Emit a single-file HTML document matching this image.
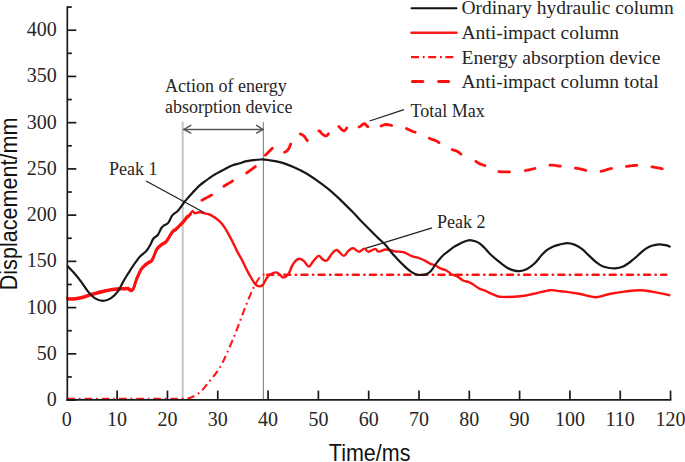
<!DOCTYPE html>
<html><head><meta charset="utf-8"><style>
html,body{margin:0;padding:0;background:#fff;width:685px;height:462px;overflow:hidden}
svg{display:block}
.serif{font-family:"Liberation Serif",serif;fill:#262626}
.sans{font-family:"Liberation Sans",sans-serif;fill:#111}
</style></head><body>
<svg width="685" height="462" viewBox="0 0 685 462">
<g fill="none">
<line x1="182.7" y1="121.8" x2="182.7" y2="399" stroke="#c4c4c4" stroke-width="2"/>
<line x1="263.4" y1="122" x2="263.4" y2="399" stroke="#8c8c8c" stroke-width="1.2"/>
</g>
<path d="M67.5,398.7 C81.2,398.7 132.1,398.7 150.0,398.7 C167.9,398.7 169.4,398.7 175.0,398.7 C180.6,398.7 181.1,398.8 183.8,398.6 C186.5,398.4 188.3,398.7 191.1,397.5 C193.9,396.3 197.9,394.2 200.8,391.6 C203.7,389.1 206.1,385.3 208.7,382.2 C211.3,379.1 214.0,375.9 216.2,372.9 C218.4,369.9 220.0,367.3 221.8,364.0 C223.6,360.7 224.9,357.8 226.9,353.3 C228.9,348.9 231.6,342.6 233.8,337.3 C236.0,332.0 237.9,326.9 239.9,321.5 C241.9,316.1 244.0,310.3 246.1,305.1 C248.2,299.9 250.5,294.3 252.4,290.2 C254.3,286.1 255.9,283.0 257.5,280.5 C259.1,278.0 260.6,276.3 262.2,275.3 C263.8,274.3 266.2,274.8 267.0,274.7" fill="none" stroke="#ff1a1a" stroke-width="2.1" stroke-dasharray="7.7 3.8 1.8 3.83"/>
<line x1="265" y1="274.7" x2="666.3" y2="274.7" stroke="#ff1010" stroke-width="2.6" stroke-linecap="round" stroke-dasharray="5.9 5.6 0.2 5.43" stroke-dashoffset="14.92"/>
<path d="M67.3,299.5 C68.4,299.5 71.3,299.7 73.7,299.5 C76.1,299.3 79.0,298.8 81.9,298.1 C84.8,297.4 87.7,296.2 91.2,295.2 C94.7,294.2 99.0,292.9 102.9,292.0 C106.8,291.1 111.1,290.3 114.6,289.9 C118.1,289.4 121.7,289.4 124.0,289.3 C126.3,289.2 127.2,289.0 128.3,289.3 C129.5,289.6 130.0,291.2 130.9,291.1 C131.8,291.0 132.6,290.6 133.5,288.9 C134.4,287.2 135.2,283.4 136.1,281.1 C137.0,278.8 137.8,276.9 138.7,275.0 C139.6,273.1 140.3,271.4 141.3,269.9 C142.3,268.4 143.7,267.1 144.8,266.0 C146.0,264.9 147.0,264.2 148.2,263.4 C149.3,262.6 150.7,262.5 151.7,261.2 C152.7,259.9 153.4,257.7 154.3,255.8 C155.2,253.9 155.7,251.4 156.9,249.7 C158.1,248.0 159.9,246.6 161.3,245.4 C162.8,244.2 164.4,243.8 165.6,242.8 C166.8,241.8 167.0,241.0 168.2,239.3 C169.3,237.6 171.2,234.0 172.5,232.4 C173.8,230.8 174.7,231.0 176.0,229.8 C177.3,228.7 179.0,226.8 180.3,225.5 C181.6,224.2 182.8,223.1 183.8,222.0 C184.8,220.9 185.2,220.1 186.2,218.9 C187.1,217.7 188.5,216.3 189.5,215.0 C190.5,213.7 191.5,211.6 192.4,211.3 C193.3,211.0 193.7,213.0 194.8,213.2 C196.0,213.4 197.5,212.2 199.3,212.3 C201.2,212.4 204.0,213.1 205.9,213.6 C207.8,214.1 208.7,213.9 210.9,215.1 C213.1,216.3 216.9,218.9 219.1,220.9 C221.3,222.9 222.2,223.8 224.2,226.8 C226.2,229.8 229.1,235.1 231.2,239.1 C233.3,243.1 235.2,247.5 236.9,250.9 C238.6,254.3 239.9,256.0 241.6,259.3 C243.3,262.6 245.5,267.3 247.2,270.6 C248.9,273.9 250.5,276.7 251.9,279.0 C253.3,281.3 254.3,283.4 255.6,284.6 C256.8,285.8 258.1,286.4 259.4,286.4 C260.6,286.4 261.9,286.0 263.1,284.6 C264.3,283.2 265.6,279.7 266.8,278.0 C268.1,276.3 269.0,275.2 270.6,274.3 C272.2,273.4 274.6,272.3 276.2,272.4 C277.8,272.5 278.7,273.9 279.9,274.8 C281.1,275.7 281.8,277.7 283.2,277.6 C284.6,277.5 286.8,276.2 288.3,274.3 C289.8,272.4 290.9,268.2 292.1,265.9 C293.4,263.6 294.6,261.9 295.8,260.7 C297.0,259.5 298.0,258.7 299.4,258.8 C300.8,258.9 302.4,259.8 304.0,261.1 C305.6,262.4 307.1,266.6 308.7,266.6 C310.3,266.6 311.7,262.9 313.4,261.1 C315.1,259.3 317.1,256.2 318.7,255.9 C320.2,255.6 321.3,258.6 322.7,259.4 C324.1,260.2 325.2,261.6 326.8,260.6 C328.4,259.6 330.4,255.3 332.1,253.5 C333.8,251.7 334.9,249.6 336.8,250.0 C338.8,250.4 341.9,255.8 343.8,255.9 C345.8,256.0 346.9,251.9 348.5,250.6 C350.1,249.3 351.4,248.1 353.2,248.3 C354.9,248.5 357.1,251.8 359.0,251.8 C360.9,251.9 362.7,248.6 364.3,248.6 C365.9,248.6 366.6,251.8 368.4,251.8 C370.2,251.9 373.4,248.9 375.1,248.9 C376.8,248.9 376.9,251.5 378.6,251.6 C380.4,251.7 383.3,249.7 385.6,249.5 C387.9,249.3 390.9,250.4 392.6,250.7 C394.3,251.0 394.2,251.2 396.0,251.5 C397.8,251.8 400.7,251.4 403.4,252.2 C406.1,253.0 409.8,255.4 412.4,256.4 C415.0,257.4 416.9,257.4 419.0,258.1 C421.1,258.8 422.9,259.7 424.8,260.6 C426.7,261.6 428.7,263.0 430.5,263.8 C432.3,264.6 433.9,264.7 435.5,265.5 C437.1,266.3 438.8,267.6 440.4,268.4 C442.0,269.1 443.9,269.4 445.3,270.0 C446.7,270.6 447.4,271.3 448.6,272.1 C449.8,272.9 450.9,274.0 452.3,274.7 C453.8,275.4 455.5,275.4 457.3,276.4 C459.1,277.4 461.1,279.6 463.0,280.5 C464.9,281.4 467.2,281.5 468.8,282.1 C470.4,282.7 471.2,283.2 472.9,284.2 C474.5,285.2 476.8,287.3 478.7,288.3 C480.6,289.3 482.6,289.6 484.4,290.4 C486.2,291.1 487.4,291.9 489.3,292.8 C491.2,293.7 493.8,295.0 496.0,295.7 C498.2,296.4 498.6,296.8 502.6,296.9 C506.6,297.0 514.9,296.8 520.2,296.3 C525.5,295.8 529.2,294.7 534.2,293.7 C539.2,292.7 545.9,290.6 550.0,290.2 C554.1,289.8 556.3,290.9 558.8,291.1 C561.3,291.3 561.6,291.2 565.0,291.6 C568.4,292.0 573.9,292.8 579.0,293.7 C584.1,294.6 590.4,297.2 595.7,297.2 C601.0,297.2 605.8,294.6 610.6,293.7 C615.4,292.8 619.6,292.2 624.6,291.6 C629.6,291.0 635.7,290.1 640.4,290.2 C645.1,290.2 647.7,291.0 652.7,291.9 C657.7,292.8 667.4,294.8 670.3,295.4" fill="none" stroke="#ff1010" stroke-width="2.4" stroke-linejoin="round"/>
<path d="M201.9,200.2 L202.8,199.8 L203.7,199.3 L204.5,198.8 L205.4,198.4 L206.3,197.9 L207.2,197.4 L208.1,196.9 L209.0,196.5 L209.8,196.0 L210.7,195.5 L211.6,195.1 M223.9,186.2 L224.7,185.7 L225.5,185.2 L226.3,184.8 L227.1,184.3 L227.9,183.8 L228.6,183.4 L229.4,182.9 L230.2,182.4 L231.0,182.0 L231.8,181.5 L232.6,181.0 M246.7,172.9 L247.5,172.3 L248.3,171.7 L249.1,171.2 L249.9,170.6 L250.7,170.0 L251.4,169.5 L252.2,168.9 L253.0,168.3 L253.8,167.8 L254.6,167.2 L255.4,166.6 M265.3,155.2 L265.9,154.6 L266.6,154.0 L267.2,153.3 L267.8,152.7 L268.5,152.1 L269.1,151.4 L269.8,150.8 L270.4,150.2 L271.0,149.5 L271.7,148.9 L272.3,148.3 M284.6,152.2 L285.2,152.0 L285.7,151.7 L286.3,151.3 L286.8,150.8 L287.4,150.3 L287.9,149.7 L288.5,149.0 L289.0,148.1 L289.6,146.9 L290.1,145.6 L290.7,144.1 M300.4,134.0 L301.0,134.2 L301.7,134.5 L302.3,134.9 L302.9,135.3 L303.5,135.7 L304.2,136.3 L304.8,137.0 L305.4,137.9 L306.0,138.9 L306.7,139.8 L307.3,140.7 M318.8,130.9 L319.7,131.2 L320.5,132.0 L321.4,133.1 L322.3,134.1 L323.2,134.7 L324.0,135.3 L324.9,135.8 L325.8,135.9 L326.7,135.7 L327.5,134.9 L328.4,133.8 M338.9,126.5 L339.6,127.3 L340.3,128.1 L341.1,128.9 L341.8,129.6 L342.5,130.2 L343.2,130.7 L343.9,130.9 L344.6,130.6 L345.4,130.0 L346.1,129.1 L346.8,127.9 M359.1,126.8 L359.9,126.6 L360.7,126.1 L361.5,125.4 L362.3,124.7 L363.1,124.1 L363.9,123.7 L364.7,123.7 L365.5,124.3 L366.3,125.2 L367.1,126.2 L367.9,126.7 M381.1,126.0 L382.1,125.6 L383.0,125.2 L384.0,124.8 L384.9,124.6 L385.9,124.5 L386.8,124.5 L387.8,124.6 L388.7,124.8 L389.7,125.0 L390.6,125.2 L391.6,125.5 M406.5,128.5 L407.3,128.9 L408.1,129.3 L408.9,129.7 L409.7,130.1 L410.5,130.5 L411.2,130.9 L412.0,131.2 L412.8,131.5 L413.6,131.8 L414.4,132.0 L415.2,132.2 M429.3,138.2 L430.2,138.6 L431.0,139.0 L431.9,139.3 L432.8,139.6 L433.7,139.8 L434.5,140.1 L435.4,140.5 L436.3,140.9 L437.2,141.4 L438.0,142.0 L438.9,142.6 M452.1,149.6 L452.9,150.0 L453.7,150.2 L454.5,150.4 L455.3,150.6 L456.1,150.9 L456.9,151.2 L457.7,151.6 L458.5,152.2 L459.3,152.8 L460.1,153.5 L460.9,154.1 M475.8,161.3 L476.6,161.9 L477.5,162.5 L478.3,163.1 L479.1,163.5 L479.9,163.9 L480.8,164.2 L481.6,164.5 L482.4,164.7 L483.2,165.0 L484.1,165.3 L484.9,165.6 M498.9,171.6 L499.9,171.7 L500.8,171.8 L501.8,171.9 L502.8,171.9 L503.7,171.9 L504.7,171.9 L505.6,171.9 L506.6,171.9 L507.6,171.9 L508.5,171.9 L509.5,171.9 M525.3,170.6 L526.2,170.4 L527.0,170.2 L527.9,170.1 L528.8,169.9 L529.7,169.7 L530.5,169.5 L531.4,169.3 L532.3,169.1 L533.2,168.9 L534.0,168.7 L534.9,168.5 M549.9,165.2 L550.8,165.1 L551.8,165.1 L552.7,165.1 L553.7,165.2 L554.6,165.3 L555.6,165.5 L556.5,165.7 L557.5,165.9 L558.4,166.0 L559.4,166.1 L560.3,166.2 M575.4,168.1 L576.4,168.2 L577.3,168.4 L578.3,168.6 L579.2,168.7 L580.2,168.9 L581.1,169.2 L582.1,169.4 L583.0,169.6 L584.0,169.9 L584.9,170.2 L585.9,170.4 M601.0,171.4 L602.0,171.2 L602.9,170.9 L603.9,170.6 L604.8,170.3 L605.8,170.0 L606.7,169.7 L607.7,169.4 L608.6,169.2 L609.6,168.9 L610.5,168.7 L611.5,168.5 M626.4,166.4 L627.4,166.3 L628.3,166.2 L629.3,166.0 L630.2,165.9 L631.2,165.8 L632.1,165.7 L633.1,165.6 L634.0,165.5 L635.0,165.4 L635.9,165.4 L636.9,165.3 M651.9,166.8 L652.8,166.9 L653.8,167.1 L654.7,167.3 L655.7,167.5 L656.6,167.6 L657.6,167.8 L658.5,168.0 L659.5,168.2 L660.4,168.4 L661.4,168.6 L662.3,168.8 " fill="none" stroke="#ff1010" stroke-width="2.8" stroke-linejoin="round" stroke-linecap="round"/>
<path d="M67.3,298.5 L67.8,298.5 L68.4,298.5 L69.2,298.6 L70.0,298.6 L70.9,298.6 L71.8,298.6 L72.8,298.6 L73.7,298.5 L74.6,298.4 L75.6,298.3 L76.6,298.1 L77.6,298.0 L78.7,297.8 L79.7,297.6 L80.8,297.4 L81.9,297.1 L83.0,296.8 L84.1,296.5 L85.2,296.1 L86.3,295.8 L87.5,295.4 L88.7,295.0 L89.9,294.6 L91.2,294.2 L92.5,293.8 L94.0,293.4 L95.4,293.0 L96.9,292.6 L98.4,292.1 L99.9,291.7 L101.4,291.3 L102.9,291.0 L104.4,290.7 L105.9,290.4 L107.4,290.1 L108.9,289.8 L110.4,289.5 L111.8,289.3 L113.2,289.1 L114.6,288.9 L115.9,288.7 L117.2,288.6 L118.5,288.5 L119.8,288.5 L120.9,288.4 L122.1,288.4 L123.1,288.3 L124.0,288.3 L124.8,288.3 L125.5,288.2 L126.1,288.2 L126.6,288.2 L127.0,288.1 L127.5,288.2 L127.9,288.2 L128.3,288.3 L128.7,288.5 L129.1,288.7 L129.4,289.0 L129.7,289.3 L130.0,289.6 L130.3,289.9 L130.6,290.1 L130.9,290.1 L131.2,290.1 L131.6,290.0 L131.9,289.8 L132.2,289.6 L132.5,289.3 L132.8,288.9 L133.2,288.5 L133.5,287.9 L133.8,287.2 L134.2,286.3 L134.5,285.3 L134.8,284.2 L135.1,283.1 L135.4,282.1 L135.8,281.0 L136.1,280.1 L136.4,279.2 L136.8,278.4 L137.1,277.6 L137.4,276.9 L137.7,276.1 L138.0,275.4 L138.4,274.7 L138.7,274.0 L139.0,273.3 L139.3,272.6 L139.6,272.0 L139.9,271.3 L140.3,270.7 L140.6,270.1 L140.9,269.5 L141.3,268.9 L141.7,268.3 L142.1,267.8 L142.6,267.3 L143.0,266.8 L143.5,266.3 L143.9,265.9 L144.4,265.4 L144.8,265.0 L145.2,264.6 L145.7,264.2 L146.1,263.9 L146.5,263.6 L146.9,263.3 L147.3,263.0 L147.8,262.7 L148.2,262.4 L148.6,262.1 L149.1,261.9 L149.5,261.7 L150.0,261.5 L150.4,261.2 L150.9,261.0 L151.3,260.6 L151.7,260.2 L152.1,259.7 L152.4,259.1 L152.7,258.4 L153.1,257.7 L153.4,257.0 L153.7,256.3 L154.0,255.5 L154.3,254.8 L154.6,254.1 L154.9,253.3 L155.2,252.5 L155.5,251.7 L155.8,250.9 L156.1,250.1 L156.5,249.4 L156.9,248.7 L157.4,248.1 L157.9,247.5 L158.4,246.9 L159.0,246.3 L159.6,245.8 L160.2,245.3 L160.7,244.8 L161.3,244.4 L161.9,244.0 L162.4,243.7 L163.0,243.3 L163.6,243.1 L164.1,242.8 L164.6,242.5 L165.1,242.2 L165.6,241.8 L166.0,241.4 L166.3,241.1 L166.6,240.7 L166.9,240.3 L167.2,239.9 L167.5,239.4 L167.8,238.9 L168.2,238.3 L168.7,237.6 L169.2,236.7 L169.7,235.8 L170.3,234.8 L170.9,233.8 L171.4,232.9 L172.0,232.1 L172.5,231.4 L173.0,230.9 L173.4,230.5 L173.8,230.2 L174.2,229.9 L174.7,229.7 L175.1,229.5 L175.5,229.2 L176.0,228.8 L176.5,228.3 L177.0,227.8 L177.6,227.3 L178.2,226.7 L178.7,226.1 L179.3,225.6 L179.8,225.0 L180.3,224.5 L180.8,224.0 L181.3,223.6 L181.7,223.1 L182.2,222.7 L182.6,222.2 L183.0,221.8 L183.4,221.3 L183.8,220.9 L184.1,220.5 L184.5,220.1 L184.7,219.7 L185.0,219.3 L185.3,218.9 L185.6,218.5 L185.9,218.1 L186.2,217.7 L186.6,217.2 L187.0,216.7 L187.4,216.2 L187.8,217.0 L188.3,216.6 L188.7,216.1 L189.1,215.6 L189.5,215.2 L189.9,214.8 L190.3,214.3 L190.6,213.9" fill="none" stroke="#ff1010" stroke-width="2.8" stroke-linejoin="round" stroke-linecap="round"/>
<path d="M67.3,265.9 C68.4,267.0 71.5,269.9 73.7,272.4 C75.9,274.9 78.4,278.0 80.7,281.1 C83.0,284.2 85.4,288.3 87.7,291.1 C90.0,293.9 92.2,296.5 94.7,298.1 C97.2,299.7 100.2,300.8 102.9,300.8 C105.6,300.8 108.6,299.7 111.1,298.1 C113.6,296.5 115.9,294.1 118.1,291.1 C120.2,288.1 122.3,283.2 124.0,280.2 C125.7,277.2 126.9,275.6 128.3,273.3 C129.8,271.0 131.2,268.6 132.7,266.4 C134.1,264.2 135.7,262.0 137.0,260.3 C138.3,258.6 138.9,257.6 140.5,256.0 C142.1,254.4 144.7,252.8 146.3,251.0 C147.9,249.2 148.8,247.5 150.0,245.4 C151.2,243.3 152.2,240.2 153.5,238.5 C154.8,236.8 156.5,236.7 157.8,235.0 C159.1,233.3 160.3,229.7 161.3,228.1 C162.3,226.5 162.8,226.4 163.9,225.5 C165.1,224.6 166.8,224.6 168.2,222.9 C169.6,221.2 170.6,217.6 172.2,215.6 C173.8,213.6 176.2,212.6 178.0,210.7 C179.8,208.8 181.7,205.8 182.9,204.1 C184.1,202.4 184.2,202.2 185.4,200.8 C186.6,199.4 188.4,197.2 190.0,195.5 C191.6,193.8 193.1,192.0 194.7,190.4 C196.3,188.8 197.8,187.1 199.4,185.7 C201.0,184.3 201.7,183.7 204.0,182.0 C206.3,180.3 210.3,177.3 213.4,175.4 C216.5,173.5 219.6,171.9 222.7,170.3 C225.8,168.7 229.2,166.8 232.1,165.6 C235.0,164.4 237.6,164.0 240.0,163.3 C242.4,162.6 243.2,161.8 246.7,161.2 C250.1,160.6 256.8,159.7 260.7,159.5 C264.6,159.3 266.5,159.8 270.0,160.3 C273.5,160.8 277.8,161.5 281.7,162.6 C285.6,163.7 289.5,165.3 293.4,167.0 C297.3,168.7 301.2,170.6 305.1,172.8 C309.0,175.0 312.9,177.7 316.8,180.4 C320.7,183.1 324.4,185.8 328.5,189.2 C332.6,192.6 337.6,197.2 341.7,201.1 C345.8,205.0 349.5,208.8 353.4,212.8 C357.3,216.8 361.2,221.1 365.1,225.1 C369.0,229.1 373.4,233.5 376.8,236.8 C380.2,240.2 383.3,242.5 385.8,245.2 C388.3,247.9 389.8,250.5 391.7,252.8 C393.6,255.1 395.6,257.1 397.5,259.2 C399.4,261.2 401.4,263.2 403.4,265.1 C405.3,267.0 407.2,268.9 409.2,270.4 C411.1,271.9 413.2,273.1 415.1,273.9 C417.1,274.7 418.9,275.0 420.9,275.0 C422.8,275.0 425.1,274.7 426.8,273.9 C428.6,273.1 429.7,272.3 431.4,270.4 C433.1,268.4 435.1,264.8 437.1,262.2 C439.2,259.6 441.2,257.1 443.7,254.8 C446.2,252.5 450.1,249.8 452.0,248.4 C453.9,247.0 453.5,247.2 455.0,246.3 C456.5,245.4 458.9,244.1 460.8,243.2 C462.8,242.3 464.9,241.3 466.7,240.8 C468.5,240.3 469.4,240.0 471.4,240.3 C473.3,240.6 476.3,241.4 478.4,242.6 C480.5,243.8 482.2,245.6 484.2,247.5 C486.1,249.4 488.2,252.1 490.1,254.0 C492.1,255.9 493.9,257.6 495.9,259.2 C497.8,260.8 499.9,262.4 501.8,263.9 C503.8,265.4 505.7,266.9 507.6,268.0 C509.6,269.1 511.6,269.9 513.5,270.4 C515.5,270.9 517.3,271.3 519.3,271.2 C521.2,271.1 523.2,270.6 525.2,269.8 C527.2,269.0 529.2,267.6 531.0,266.3 C532.8,265.0 534.0,264.1 535.8,262.2 C537.6,260.3 539.8,257.2 541.7,255.1 C543.7,253.0 545.5,251.0 547.5,249.6 C549.5,248.2 551.2,247.3 553.4,246.4 C555.5,245.5 558.1,244.9 560.4,244.3 C562.7,243.8 565.1,243.1 567.4,243.1 C569.7,243.1 572.0,243.7 574.4,244.6 C576.8,245.5 579.1,246.9 581.5,248.7 C583.9,250.4 586.2,252.9 588.5,255.1 C590.8,257.2 593.2,259.7 595.5,261.6 C597.8,263.5 600.1,265.2 602.5,266.3 C604.9,267.4 607.5,267.6 609.7,268.0 C611.9,268.4 613.4,268.6 615.5,268.4 C617.6,268.2 620.4,267.6 622.5,266.8 C624.6,266.0 626.4,264.7 628.4,263.3 C630.4,261.9 632.2,260.3 634.2,258.7 C636.2,257.1 638.2,255.1 640.1,253.4 C642.0,251.7 644.0,250.0 645.9,248.7 C647.8,247.4 649.6,246.5 651.8,245.8 C653.9,245.1 656.5,244.4 658.8,244.3 C661.1,244.2 663.8,244.8 665.8,245.2 C667.8,245.6 669.7,246.7 670.5,247.0" fill="none" stroke="#181818" stroke-width="2.2" stroke-linejoin="round"/>
<g stroke="#1a1a1a" stroke-width="1.7" fill="none" stroke-linecap="butt">
<line x1="67.3" y1="6.3" x2="67.3" y2="400.8"/>
<line x1="66.4" y1="399.9" x2="671.4" y2="399.9"/>
<line x1="67.3" y1="400.07" x2="76.30" y2="400.07"/><line x1="67.3" y1="376.95" x2="71.80" y2="376.95"/><line x1="67.3" y1="353.84" x2="76.30" y2="353.84"/><line x1="67.3" y1="330.72" x2="71.80" y2="330.72"/><line x1="67.3" y1="307.60" x2="76.30" y2="307.60"/><line x1="67.3" y1="284.49" x2="71.80" y2="284.49"/><line x1="67.3" y1="261.37" x2="76.30" y2="261.37"/><line x1="67.3" y1="238.25" x2="71.80" y2="238.25"/><line x1="67.3" y1="215.14" x2="76.30" y2="215.14"/><line x1="67.3" y1="192.02" x2="71.80" y2="192.02"/><line x1="67.3" y1="168.90" x2="76.30" y2="168.90"/><line x1="67.3" y1="145.79" x2="71.80" y2="145.79"/><line x1="67.3" y1="122.67" x2="76.30" y2="122.67"/><line x1="67.3" y1="99.55" x2="71.80" y2="99.55"/><line x1="67.3" y1="76.44" x2="76.30" y2="76.44"/><line x1="67.3" y1="53.32" x2="71.80" y2="53.32"/><line x1="67.3" y1="30.20" x2="76.30" y2="30.20"/><line x1="67.3" y1="7.09" x2="71.80" y2="7.09"/><line x1="117.14" y1="399.9" x2="117.14" y2="390.6"/><line x1="167.45" y1="399.9" x2="167.45" y2="390.6"/><line x1="217.76" y1="399.9" x2="217.76" y2="390.6"/><line x1="268.07" y1="399.9" x2="268.07" y2="390.6"/><line x1="318.38" y1="399.9" x2="318.38" y2="390.6"/><line x1="368.69" y1="399.9" x2="368.69" y2="390.6"/><line x1="419.00" y1="399.9" x2="419.00" y2="390.6"/><line x1="469.31" y1="399.9" x2="469.31" y2="390.6"/><line x1="519.62" y1="399.9" x2="519.62" y2="390.6"/><line x1="569.93" y1="399.9" x2="569.93" y2="390.6"/><line x1="620.24" y1="399.9" x2="620.24" y2="390.6"/><line x1="670.55" y1="399.9" x2="670.55" y2="390.6"/>
</g>
<g stroke="#555" stroke-width="1.4" fill="none" stroke-linecap="round" stroke-linejoin="miter">
<line x1="183.5" y1="129.45" x2="263" y2="129.45"/>
<polyline points="190.8,125.3 184,129.45 190.8,133.1"/>
<polyline points="256.5,125.3 263,129.45 256.5,133.1"/>
</g>
<g stroke="#222" stroke-width="1.3" fill="none">
<line x1="146" y1="181" x2="204" y2="212.5"/>
<line x1="369.6" y1="121" x2="403.9" y2="109.6"/>
<line x1="365.4" y1="248.4" x2="432.1" y2="227.9"/>
</g>
<g class="serif" font-size="20"><text x="56.7" y="406.1" text-anchor="end">0</text><text x="56.7" y="359.8" text-anchor="end">50</text><text x="56.7" y="313.6" text-anchor="end">100</text><text x="56.7" y="267.4" text-anchor="end">150</text><text x="56.7" y="221.1" text-anchor="end">200</text><text x="56.7" y="174.9" text-anchor="end">250</text><text x="56.7" y="128.7" text-anchor="end">300</text><text x="56.7" y="82.4" text-anchor="end">350</text><text x="56.7" y="36.2" text-anchor="end">400</text><text x="66.8" y="426" text-anchor="middle">0</text><text x="117.1" y="426" text-anchor="middle">10</text><text x="167.4" y="426" text-anchor="middle">20</text><text x="217.8" y="426" text-anchor="middle">30</text><text x="268.1" y="426" text-anchor="middle">40</text><text x="318.4" y="426" text-anchor="middle">50</text><text x="368.7" y="426" text-anchor="middle">60</text><text x="419.0" y="426" text-anchor="middle">70</text><text x="469.3" y="426" text-anchor="middle">80</text><text x="519.6" y="426" text-anchor="middle">90</text><text x="569.9" y="426" text-anchor="middle">100</text><text x="620.2" y="426" text-anchor="middle">110</text><text x="670.5" y="426" text-anchor="middle">120</text></g>
<g class="serif" font-size="18">
<text x="165" y="92">Action of energy</text>
<text x="165" y="113">absorption device</text>
<text x="410.5" y="116.7">Total Max</text>
<text x="109" y="174.5">Peak 1</text>
<text x="437" y="227.6">Peak 2</text>
</g>
<g class="serif" font-size="19.5">
<text x="461.5" y="14">Ordinary hydraulic column</text>
<text x="461.5" y="39">Anti-impact column</text>
<text x="461.5" y="63.5">Energy absorption device</text>
<text x="461.5" y="88">Anti-impact column total</text>
</g>
<g fill="none">
<line x1="411.5" y1="8.3" x2="456.5" y2="8.3" stroke="#111" stroke-width="2" stroke-linecap="round"/>
<line x1="411.5" y1="32.8" x2="456.5" y2="32.8" stroke="#ff1a1a" stroke-width="2.6" stroke-linecap="round"/>
<line x1="411" y1="57.1" x2="453.8" y2="57.1" stroke="#ff1010" stroke-width="2.4" stroke-dasharray="8 3.8 1.8 3.6"/>
<line x1="412.4" y1="81.6" x2="448.6" y2="81.6" stroke="#ff1010" stroke-width="3" stroke-linecap="round" stroke-dasharray="10.5 15.7"/>
</g>
<text class="sans" font-size="21.5" transform="matrix(1 0 0 1.1 328.8 461.2)">Time/ms</text>
<text class="sans" font-size="21.6" transform="translate(17.1,290.3) rotate(-90) scale(1,1.08)">Displacement/mm</text>
</svg>
</body></html>
